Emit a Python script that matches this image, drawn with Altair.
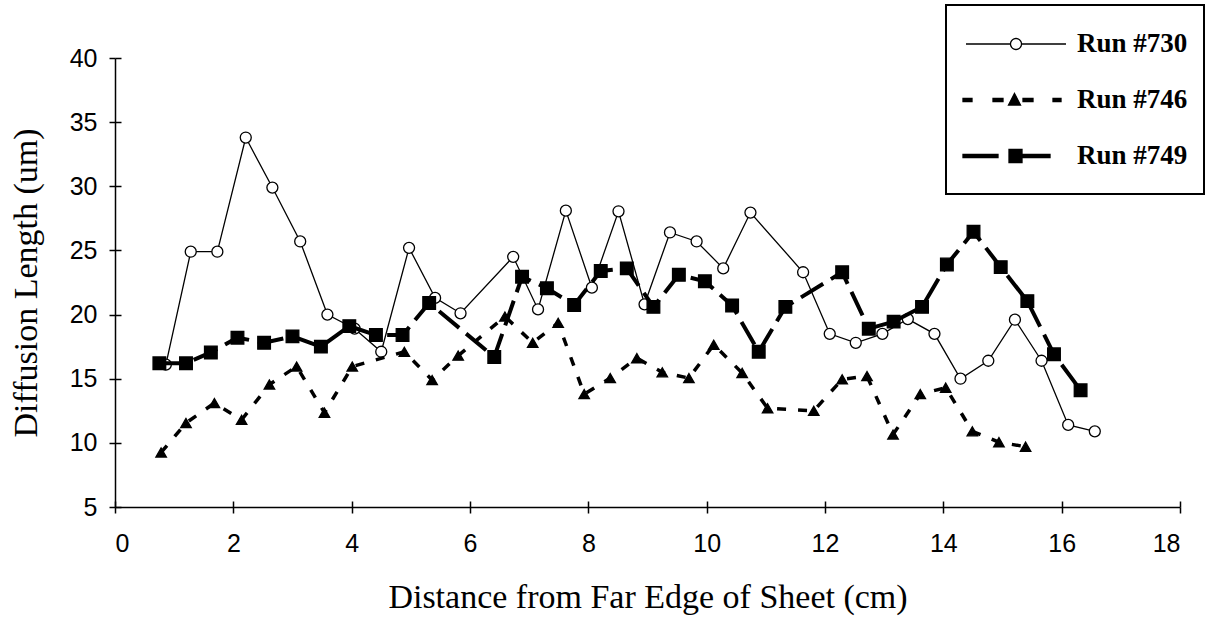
import math
import altair as alt
import pandas as pd

runs = ["Run #730", "Run #746", "Run #749"]

x730 = [0.86, 1.28, 1.73, 2.21, 2.66, 3.13, 3.59, 4.05, 4.50, 4.97, 5.41, 5.84, 6.73, 7.15, 7.62,
        8.06, 8.51, 8.95, 9.38, 9.83, 10.28, 10.74, 11.63, 12.08, 12.52, 12.97, 13.40, 13.85,
        14.29, 14.76, 15.21, 15.66, 16.11, 16.56]
y730 = [16.1, 24.9, 24.9, 33.8, 29.9, 25.7, 20.0, 18.9, 17.1, 25.2, 21.3, 20.1, 24.5, 20.4, 28.1,
        22.1, 28.05, 20.8, 26.4, 25.7, 23.6, 27.95, 23.3, 18.5, 17.8, 18.5, 19.65, 18.5,
        15.0, 16.4, 19.6, 16.4, 11.4, 10.9]

x746 = [0.78, 1.20, 1.68, 2.14, 2.61, 3.07, 3.54, 4.01, 4.89, 5.36, 5.80, 6.59, 7.06, 7.49, 7.93,
        8.37, 8.82, 9.25, 9.70, 10.12, 10.60, 11.03, 11.81, 12.29, 12.71, 13.15, 13.61, 14.04,
        14.49, 14.94, 15.39]
y746 = [9.25, 11.55, 13.1, 11.8, 14.55, 15.95, 12.35, 15.95, 17.1, 14.9, 16.8, 19.85, 17.8, 19.35, 13.8,
        15.05, 16.6, 15.5, 15.05, 17.65, 15.45, 12.7, 12.5, 14.95, 15.2, 10.65, 13.8, 14.3,
        10.9, 10.05, 9.7]

x749 = [0.75, 1.20, 1.62, 2.07, 2.52, 3.00, 3.48, 3.96, 4.41, 4.86, 5.31, 6.41, 6.88, 7.30, 7.76,
        8.21, 8.65, 9.10, 9.53, 9.97, 10.43, 10.88, 11.33, 12.29, 12.74, 13.16, 13.64, 14.06,
        14.51, 14.97, 15.42, 15.87, 16.32]
y749 = [16.2, 16.2, 17.05, 18.2, 17.8, 18.3, 17.5, 19.1, 18.4, 18.4, 20.9, 16.7, 22.95, 22.05, 20.75,
        23.4, 23.6, 20.6, 23.1, 22.6, 20.7, 17.1, 20.6, 23.3, 18.9, 19.45, 20.6, 23.9,
        26.45, 23.7, 21.05, 16.9, 14.1]

x_ticks = [0, 2, 4, 6, 8, 10, 12, 14, 16, 18]
y_ticks = [5, 10, 15, 20, 25, 30, 35, 40]

rows = []
for run, xs, ys in zip(runs, [x730, x746, x749], [y730, y746, y749]):
    for i, (xv, yv) in enumerate(zip(xs, ys)):
        rows.append({"run": run, "x": xv, "y": yv, "order": i})
df = pd.DataFrame(rows)

# ---- legend symbols (line + marker drawn as custom paths) ----
R = 22.0  # half symbol size in px


def sc(v):
    return round(v / R, 4)


def rect(x0, x1, h):
    return (f"M{sc(x0)},{sc(-h)}L{sc(x1)},{sc(-h)}L{sc(x1)},{sc(h)}L{sc(x0)},{sc(h)}Z")


def circ(r, n=28):
    pts = [(r * math.cos(2 * math.pi * k / n), r * math.sin(2 * math.pi * k / n)) for k in range(n)]
    s = f"M{sc(pts[0][0])},{sc(pts[0][1])}"
    for px, py in pts[1:]:
        s += f"L{sc(px)},{sc(py)}"
    return s + "Z"


p730 = f"M{sc(-50)},0L{sc(-5.5)},0M{sc(5.5)},0L{sc(50)},0" + circ(5.5)
p746 = (rect(-53, -44, 1.5) + rect(-23, -13, 1.5)
        + f"M{sc(-1.5)},{sc(-6.5)}L{sc(4.5)},{sc(5)}L{sc(-7.5)},{sc(5)}Z"
        + rect(7, 17, 1.5) + rect(37, 45, 1.5))
p749 = (rect(-53, -18, 1.6)
        + f"M{sc(-7)},{sc(-6.5)}L{sc(6)},{sc(-6.5)}L{sc(6)},{sc(6.5)}L{sc(-7)},{sc(6.5)}Z"
        + rect(6, 34, 1.6))

xscale = alt.Scale(domain=[0, 18], nice=False, zero=False)
yscale = alt.Scale(domain=[5, 40], nice=False, zero=False)

xenc = alt.X("x:Q", scale=xscale,
             axis=alt.Axis(values=x_ticks, title="Distance from Far Edge of Sheet (cm)",
                           labelPadding=18, titlePadding=24, orient="bottom"))
yenc = alt.Y("y:Q", scale=yscale,
             axis=alt.Axis(values=y_ticks, title="Diffusion Length (um)",
                           labelPadding=12, titlePadding=26, orient="left"))

base = alt.Chart(df)


def line_layer(run, width, dash=None):
    kw = dict(color="black", strokeWidth=width)
    if dash:
        kw["strokeDash"] = dash
    return base.transform_filter(alt.datum.run == run).mark_line(**kw).encode(
        x=xenc, y=yenc, order="order:Q")


def point_layer(run, shape, fill, size):
    return base.transform_filter(alt.datum.run == run).mark_point(
        shape=shape, filled=True, fill=fill, stroke="black", strokeWidth=1.3,
        size=size, opacity=1).encode(x=xenc, y=yenc)


legend_df = pd.DataFrame({"run": runs})
leg = alt.Legend(title=" ", titleOrient="bottom", titleFontSize=2, titlePadding=7,
                 orient="none", legendX=831, legendY=-53,
                 symbolSize=(2 * R) ** 2, symbolOpacity=1, symbolStrokeColor="black",
                 symbolStrokeWidth=1.3, symbolOffset=31, labelOffset=38,
                 labelFont="Liberation Serif", labelFontWeight="bold", labelFontSize=27,
                 labelColor="black", rowPadding=20, padding=16,
                 strokeColor="black", fillColor="white")
legend_layer = alt.Chart(legend_df).mark_point(filled=True, opacity=0, strokeWidth=1.3).encode(
    shape=alt.Shape("run:N", scale=alt.Scale(domain=runs, range=[p730, p746, p749]), legend=leg),
    fill=alt.Fill("run:N", scale=alt.Scale(domain=runs, range=["white", "black", "black"]), legend=leg),
    stroke=alt.Stroke("run:N", scale=alt.Scale(domain=runs, range=["black", "black", "black"]), legend=leg),
)

main = alt.layer(
    line_layer("Run #730", 1.3),
    point_layer("Run #730", "circle", "white", 121),
    line_layer("Run #746", 3.5, [9, 12]),
    point_layer("Run #746", "triangle-up", "black", 110),
    line_layer("Run #749", 4, [26, 9]),
    point_layer("Run #749", "square", "black", 160),
    legend_layer,
)

# inner half of the tick marks (ticks cross the axis lines in the original)
inner_ticks = base.mark_point(opacity=0).encode(
    x=alt.X("x:Q", scale=xscale,
            axis=alt.Axis(values=x_ticks, orient="bottom", offset=-6, domain=False,
                          labels=False, title=None, tickSize=6)),
    y=alt.Y("y:Q", scale=yscale,
            axis=alt.Axis(values=y_ticks, orient="left", offset=-6, domain=False,
                          labels=False, title=None, tickSize=6)),
)

chart = alt.layer(main, inner_ticks).resolve_axis(x="independent", y="independent").properties(
    width=1065, height=449,
    autosize=alt.AutoSizeParams(type="none"),
    padding={"left": 115, "top": 58, "right": 28, "bottom": 117},
    background="white",
).configure_view(stroke=None).configure_axis(
    grid=False, domainColor="black", domainWidth=1.5, tickColor="black", tickWidth=1.5,
    tickSize=6, labelFont="Liberation Sans", labelFontSize=25, labelColor="black",
    titleFont="Liberation Serif", titleFontSize=34, titleFontWeight="normal", titleColor="black",
).configure_legend(strokeWidth=2)

chart.save("out.html", embed_options={"renderer": "svg", "actions": False})
